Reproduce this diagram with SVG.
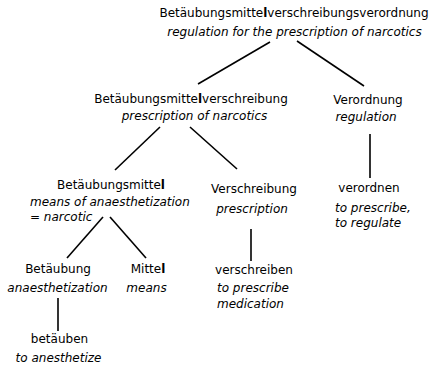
<svg xmlns="http://www.w3.org/2000/svg" width="429" height="366" viewBox="0 0 429 366">
<style>
text{font-family:"DejaVu Sans",sans-serif;font-size:12px;fill:#000}
.i{font-style:italic}
.m{text-anchor:middle}
.b{font-weight:bold}
.c line{stroke:#000;stroke-width:1.6}
</style>
<rect width="429" height="366" fill="#fff"/>
<g class="c" id="connectors">
<line x1="270" y1="42" x2="198" y2="84"/>
<line x1="297" y1="41" x2="364" y2="86"/>
<line x1="160" y1="127" x2="115" y2="170"/>
<line x1="190" y1="127" x2="237" y2="169"/>
<line x1="370" y1="134" x2="370" y2="178"/>
<line x1="103" y1="217" x2="67" y2="258"/>
<line x1="110" y1="217" x2="146" y2="258"/>
<line x1="251" y1="229" x2="251" y2="261"/>
<line x1="58" y1="298" x2="58" y2="331"/>
</g>
<g id="n-root">
<text class="m" x="294" y="17">Betäubungsmitte<tspan class="b">l</tspan>verschreibungsverordnung</text>
<text class="m i" x="294.5" y="36">regulation for the prescription of narcotics</text>
</g>
<g id="n-bmv">
<text class="m" x="191" y="103">Betäubungsmitte<tspan class="b">l</tspan>verschreibung</text>
<text class="m i" x="194.5" y="120">prescription of narcotics</text>
</g>
<g id="n-verordnung">
<text class="m" x="368" y="104">Verordnung</text>
<text class="m i" x="366" y="121">regulation</text>
</g>
<g id="n-bm">
<text class="m" x="111" y="189">Betäubungsmitte<tspan class="b">l</tspan></text>
<text class="i" x="30" y="206">means of anaesthetization</text>
<text class="i" x="30" y="221">= narcotic</text>
</g>
<g id="n-verschreibung">
<text class="m" x="254" y="193">Verschreibung</text>
<text class="m i" x="252" y="213">prescription</text>
</g>
<g id="n-verordnen">
<text class="m" x="369" y="192">verordnen</text>
<text class="i" x="335" y="212">to prescribe,</text>
<text class="i" x="335" y="227">to regulate</text>
</g>
<g id="n-betaeubung">
<text class="m" x="58" y="273">Betäubung</text>
<text class="m i" x="57.5" y="292">anaesthetization</text>
</g>
<g id="n-mittel">
<text class="m" x="148" y="273">Mitte<tspan class="b">l</tspan></text>
<text class="m i" x="146.5" y="292">means</text>
</g>
<g id="n-verschreiben">
<text class="m" x="254" y="274">verschreiben</text>
<text class="i" x="217" y="292">to prescribe</text>
<text class="i" x="217" y="308">medication</text>
</g>
<g id="n-betaeuben">
<text class="m" x="59.5" y="343">betäuben</text>
<text class="m i" x="58.5" y="362">to anesthetize</text>
</g>
</svg>
